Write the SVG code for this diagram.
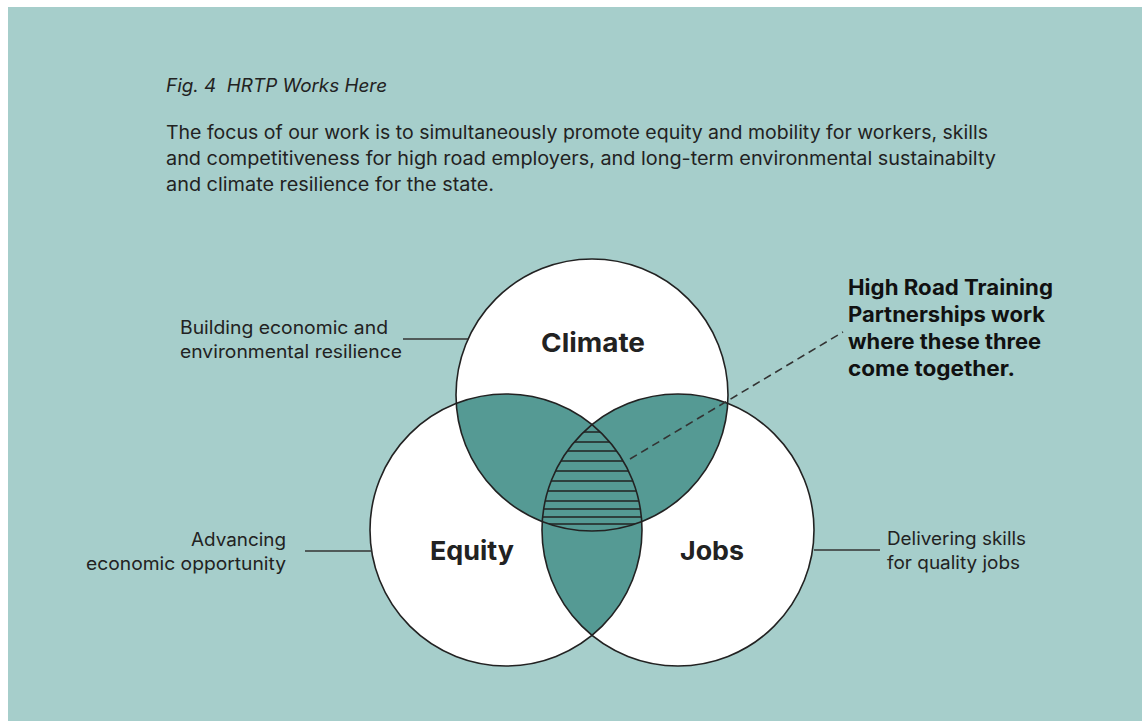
<svg xmlns="http://www.w3.org/2000/svg" width="1142" height="721" viewBox="0 0 1142 721">
  <style>
    text { font-family: Inter, "Liberation Sans", Arial, sans-serif; fill: #222; white-space: pre; }
    .cap { font-size: 18px; font-style: italic; }
    .body { font-size: 18.5px; }
    .lbl { font-size: 18px; }
    .big { font-size: 26px; font-weight: 700; }
    .callout { font-size: 21px; font-weight: 700; fill: #111; }
    .ring { fill: none; stroke: #222; stroke-width: 1.6; }
    .lens { fill: #559a94; }
    .lead { stroke: #333; stroke-width: 1.6; fill: none; }
    .hatch { stroke: #222; stroke-width: 1.6; }
  </style>
  <defs>
    <clipPath id="cClimate"><circle cx="592" cy="395" r="136"/></clipPath>
    <clipPath id="cEquity"><circle cx="506" cy="530" r="136"/></clipPath>
    <clipPath id="cJobs"><circle cx="678" cy="530" r="136"/></clipPath>
  </defs>

  <rect x="0" y="0" width="1142" height="721" fill="#ffffff"/>
  <rect x="8" y="7" width="1134" height="714" fill="#a6cecb"/>

  <g id="caption">
    <text class="cap" x="166" y="92" textLength="221" lengthAdjust="spacingAndGlyphs">Fig. 4  HRTP Works Here</text>
    <text class="body" x="166" y="139" textLength="822" lengthAdjust="spacingAndGlyphs">The focus of our work is to simultaneously promote equity and mobility for workers, skills</text>
    <text class="body" x="166" y="165" textLength="830" lengthAdjust="spacingAndGlyphs">and competitiveness for high road employers, and long-term environmental sustainabilty</text>
    <text class="body" x="166" y="191" textLength="328" lengthAdjust="spacingAndGlyphs">and climate resilience for the state.</text>
  </g>

  <!-- white discs -->
  <g id="discs">
    <circle cx="592" cy="395" r="136" fill="#fff"/>
    <circle cx="506" cy="530" r="136" fill="#fff"/>
    <circle cx="678" cy="530" r="136" fill="#fff"/>
  </g>

  <!-- pairwise overlaps -->
  <g id="overlaps">
    <g clip-path="url(#cClimate)"><circle class="lens" cx="506" cy="530" r="136"/></g>
    <g clip-path="url(#cClimate)"><circle class="lens" cx="678" cy="530" r="136"/></g>
    <g clip-path="url(#cEquity)"><circle class="lens" cx="678" cy="530" r="136"/></g>
  </g>

  <!-- hatched centre where all three meet -->
  <g id="core" clip-path="url(#cClimate)">
    <g clip-path="url(#cEquity)">
      <g clip-path="url(#cJobs)">
        <line class="hatch" x1="530" y1="432" x2="660" y2="432"/>
        <line class="hatch" x1="530" y1="442" x2="660" y2="442"/>
        <line class="hatch" x1="530" y1="451" x2="660" y2="451"/>
        <line class="hatch" x1="530" y1="461" x2="660" y2="461"/>
        <line class="hatch" x1="530" y1="471" x2="660" y2="471"/>
        <line class="hatch" x1="530" y1="481" x2="660" y2="481"/>
        <line class="hatch" x1="530" y1="491" x2="660" y2="491"/>
        <line class="hatch" x1="530" y1="501" x2="660" y2="501"/>
        <line class="hatch" x1="530" y1="509" x2="660" y2="509"/>
        <line class="hatch" x1="530" y1="517" x2="660" y2="517"/>
        <line class="hatch" x1="530" y1="524" x2="660" y2="524"/>
      </g>
    </g>
  </g>

  <g id="climate">
    <circle class="ring" cx="592" cy="395" r="136"/>
    <text class="big" x="541" y="352" textLength="104" lengthAdjust="spacingAndGlyphs">Climate</text>
  </g>
  <g id="equity">
    <circle class="ring" cx="506" cy="530" r="136"/>
    <text class="big" x="430" y="560" textLength="84" lengthAdjust="spacingAndGlyphs">Equity</text>
  </g>
  <g id="jobs">
    <circle class="ring" cx="678" cy="530" r="136"/>
    <text class="big" x="680" y="560" textLength="64" lengthAdjust="spacingAndGlyphs">Jobs</text>
  </g>

  <g id="connectors">
    <line class="lead" x1="403" y1="339" x2="468" y2="339"/>
    <line class="lead" x1="305" y1="551" x2="372" y2="551"/>
    <line class="lead" x1="814" y1="550" x2="880" y2="550"/>
    <line class="lead" x1="630" y1="459" x2="843" y2="332" stroke-dasharray="8 5"/>
  </g>

  <g id="label-climate">
    <text class="lbl" x="180" y="334" textLength="208" lengthAdjust="spacingAndGlyphs">Building economic and</text>
    <text class="lbl" x="180" y="358" textLength="222" lengthAdjust="spacingAndGlyphs">environmental resilience</text>
  </g>
  <g id="label-equity">
    <text class="lbl" x="191" y="546" textLength="95" lengthAdjust="spacingAndGlyphs">Advancing</text>
    <text class="lbl" x="86" y="570" textLength="200" lengthAdjust="spacingAndGlyphs">economic opportunity</text>
  </g>
  <g id="label-jobs">
    <text class="lbl" x="887" y="545" textLength="139" lengthAdjust="spacingAndGlyphs">Delivering skills</text>
    <text class="lbl" x="887" y="569" textLength="133" lengthAdjust="spacingAndGlyphs">for quality jobs</text>
  </g>
  <g id="label-core">
    <text class="callout" x="848" y="295" textLength="205" lengthAdjust="spacingAndGlyphs">High Road Training</text>
    <text class="callout" x="848" y="322" textLength="197" lengthAdjust="spacingAndGlyphs">Partnerships work</text>
    <text class="callout" x="848" y="349" textLength="193" lengthAdjust="spacingAndGlyphs">where these three</text>
    <text class="callout" x="848" y="376" textLength="167" lengthAdjust="spacingAndGlyphs">come together.</text>
  </g>
</svg>
